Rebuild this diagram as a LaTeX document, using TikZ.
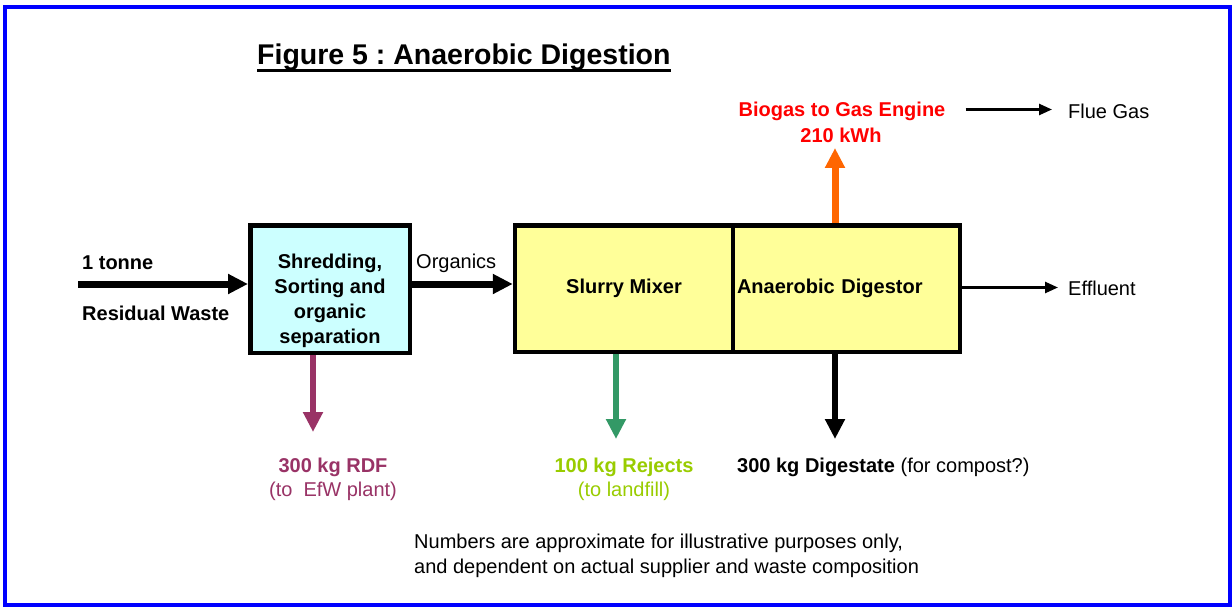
\documentclass[tikz,border=0pt]{standalone}
\usepackage{fontspec}
\setmainfont{Liberation Sans}
\usetikzlibrary{arrows.meta}
\frenchspacing
\definecolor{framec}{HTML}{0000FF}
\definecolor{cyanfill}{HTML}{CCFFFF}
\definecolor{yellowfill}{HTML}{FFFF99}
\definecolor{rdfc}{HTML}{993366}
\definecolor{rejc}{HTML}{339966}
\definecolor{rejtxt}{HTML}{99CC00}
\definecolor{orangec}{HTML}{FF6600}
\definecolor{redc}{HTML}{FF0000}
\tikzset{
  txt/.style={inner sep=0pt, font=\fontsize{20}{25}\selectfont},
  btxt/.style={inner sep=0pt, font=\fontsize{20}{25}\selectfont\bfseries},
  procbox/.style={draw=black, line width=4.5pt, rectangle, inner sep=0pt},
  fatarrow/.style={line width=7pt, -{Triangle[length=20pt,width=19pt]}},
  downarrow/.style={line width=6pt, -{Triangle[length=20pt,width=19pt]}},
  thinarrow/.style={line width=2.5pt, -{Triangle[length=13pt,width=11pt]}}
}
\begin{document}
\begin{tikzpicture}[x=1pt,y=-1pt]
\useasboundingbox (0,0) rectangle (1232,607);
\fill[white] (0,0) rectangle (1232,607);
\draw[framec, line width=4pt] (5,7.5) rectangle (1230,604.5);

% title
\node[inner sep=0pt, anchor=base west, font=\fontsize{28.5}{34}\selectfont\bfseries] (title) at (257,64.5) {Figure 5 : Anaerobic Digestion};
\draw[line width=3pt] ([yshift=-6pt]title.base west) -- ([yshift=-6pt]title.base east);

% boxes
\node[procbox, fill=cyanfill, minimum width=159.5pt, minimum height=127.5pt] (shred) at (330,289) {};
\node[btxt, align=center] (shredtxt) at (330,300.5) {Shredding,\\Sorting and\\organic\\separation};

\node[procbox, fill=yellowfill, minimum width=218pt, minimum height=126.5pt, font=\fontsize{20}{25}\selectfont\bfseries] (mixer) at (624,288.5) {Slurry Mixer};
\node[procbox, fill=yellowfill, minimum width=227pt, minimum height=126.5pt, font=\fontsize{20}{25}\selectfont\bfseries, text width=219pt, inner xsep=4pt, inner ysep=0pt, align=left] (digestor) at (846.5,288.5) {Anaerobic Digestor};

% input
\node[btxt, anchor=west] (tonne) at (82,263) {1 tonne};
\node[btxt, anchor=west] (resid) at (82,313) {Residual Waste};
\coordinate (inA) at (78,284);
\draw[fatarrow] (inA) -- (inA -| shred.west);

% organics
\node[txt, anchor=west] (organics) at (416,263) {Organics};
\draw[fatarrow] (shred.east |- inA) -- (mixer.west |- inA);

% biogas
\node[btxt, text=redc] (biogas) at (842,111) {Biogas to Gas Engine};
\node[btxt, text=redc] (kwh) at (841,135) {210 kWh};
\coordinate (bgtip) at (835,148);
\draw[orangec, fatarrow] (bgtip |- digestor.north) -- (bgtip);

% flue gas
\node[txt, anchor=west] (flue) at (1068,111) {Flue Gas};
\draw[thinarrow] ([xshift=20pt]biogas.east |- 0,109.5) -- ([xshift=-16pt]flue.west |- 0,109.5);

% effluent
\node[txt, anchor=west] (effluent) at (1068,288) {Effluent};
\draw[thinarrow] (digestor.east |- 0,287.5) -- ([xshift=-10pt]effluent.west |- 0,287.5);

% outputs
\coordinate (rdftip) at (313,432);
\coordinate (rejtip) at (616,439);
\coordinate (digtip) at (835,439);
\draw[rdfc, downarrow] (rdftip |- shred.south) -- (rdftip);
\draw[rejc, downarrow] (rejtip |- mixer.south) -- (rejtip);
\draw[black, downarrow] (digtip |- digestor.south) -- (digtip);

\node[btxt, text=rdfc] (rdf) at (333,467) {300 kg RDF};
\node[txt, text=rdfc] (rdf2) at (333,491) {(to\ \ EfW plant)};
\node[btxt, text=rejtxt] (rej) at (624,467) {100 kg Rejects};
\node[txt, text=rejtxt] (rej2) at (624,491) {(to landfill)};
\node[txt, anchor=west] (dig) at (737,467) {\textbf{300 kg Digestate} (for compost?)};

% note
\node[txt, anchor=west] (note1) at (414,543) {Numbers are approximate for illustrative purposes only,};
\node[txt, anchor=west] (note2) at (414,568) {and dependent on actual supplier and waste composition};
\end{tikzpicture}
\end{document}
